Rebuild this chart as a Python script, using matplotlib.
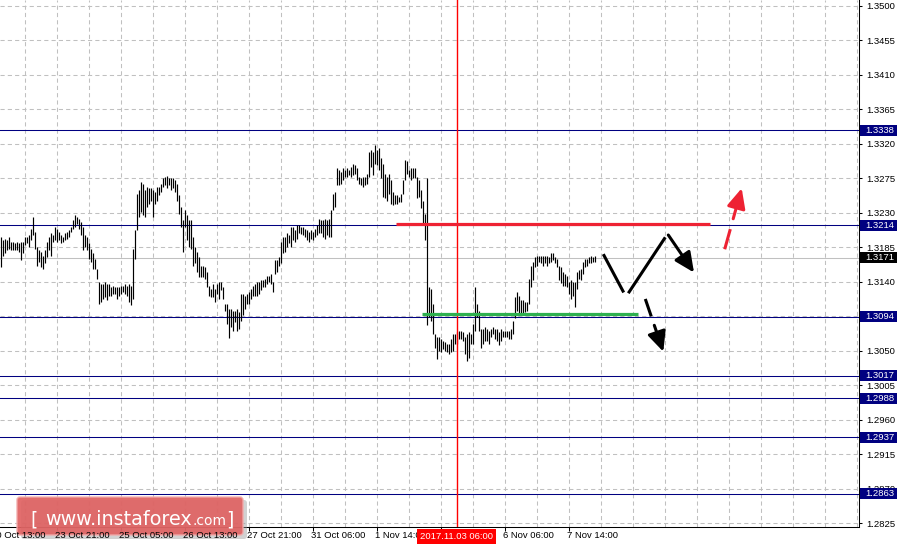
import numpy as np
import matplotlib
matplotlib.use('Agg')
import matplotlib.pyplot as plt
from matplotlib.patches import Rectangle, FancyBboxPatch
from matplotlib.transforms import blended_transform_factory

plt.rcParams['font.family'] = ['Liberation Sans', 'DejaVu Sans']

#--------- GBPUSD H1 bars (high / low) ---------#
highs = [
    1.3198, 1.3194, 1.3196, 1.3194, 1.3198, 1.3192, 1.3192, 1.3190, 1.3192, 1.3190,
    1.3192, 1.3192, 1.3198, 1.3198, 1.3201, 1.3209, 1.3225, 1.3205, 1.3185, 1.3181,
    1.3179, 1.3174, 1.3181, 1.3192, 1.3198, 1.3203, 1.3201, 1.3212, 1.3209, 1.3205,
    1.3201, 1.3198, 1.3203, 1.3205, 1.3207, 1.3212, 1.3220, 1.3227, 1.3224, 1.3222,
    1.3218, 1.3212, 1.3201, 1.3198, 1.3190, 1.3183, 1.3177, 1.3170, 1.3157, 1.3140,
    1.3137, 1.3137, 1.3140, 1.3137, 1.3137, 1.3133, 1.3135, 1.3133, 1.3133, 1.3133,
    1.3135, 1.3135, 1.3137, 1.3135, 1.3137, 1.3135, 1.3183, 1.3207, 1.3255, 1.3260,
    1.3270, 1.3268, 1.3260, 1.3264, 1.3262, 1.3262, 1.3260, 1.3257, 1.3264, 1.3264,
    1.3268, 1.3275, 1.3277, 1.3278, 1.3276, 1.3275, 1.3275, 1.3273, 1.3268, 1.3253,
    1.3238, 1.3220, 1.3233, 1.3227, 1.3220, 1.3220, 1.3198, 1.3185, 1.3179, 1.3172,
    1.3161, 1.3161, 1.3159, 1.3153, 1.3135, 1.3131, 1.3137, 1.3131, 1.3137, 1.3140,
    1.3140, 1.3133, 1.3111, 1.3111, 1.3105, 1.3105, 1.3102, 1.3102, 1.3105, 1.3100,
    1.3124, 1.3124, 1.3122, 1.3124, 1.3126, 1.3131, 1.3135, 1.3137, 1.3140, 1.3140,
    1.3142, 1.3142, 1.3144, 1.3148, 1.3148, 1.3150, 1.3140, 1.3168, 1.3168, 1.3172,
    1.3192, 1.3198, 1.3198, 1.3203, 1.3201, 1.3211, 1.3211, 1.3207, 1.3214, 1.3214,
    1.3212, 1.3211, 1.3209, 1.3207, 1.3205, 1.3207, 1.3205, 1.3209, 1.3214, 1.3222,
    1.3220, 1.3220, 1.3222, 1.3220, 1.3222, 1.3233, 1.3255, 1.3257, 1.3288, 1.3286,
    1.3283, 1.3288, 1.3286, 1.3288, 1.3286, 1.3290, 1.3294, 1.3292, 1.3288, 1.3277,
    1.3275, 1.3277, 1.3277, 1.3281, 1.3310, 1.3312, 1.3310, 1.3318, 1.3312, 1.3314,
    1.3301, 1.3294, 1.3281, 1.3277, 1.3281, 1.3273, 1.3257, 1.3253, 1.3253, 1.3251,
    1.3255, 1.3273, 1.3299, 1.3297, 1.3286, 1.3288, 1.3288, 1.3288, 1.3277, 1.3273,
    1.3260, 1.3246, 1.3229, 1.3275, 1.3133, 1.3131, 1.3111, 1.3072, 1.3068, 1.3068,
    1.3065, 1.3063, 1.3061, 1.3059, 1.3059, 1.3065, 1.3072, 1.3072, 1.3074, 1.3076,
    1.3076, 1.3074, 1.3068, 1.3072, 1.3074, 1.3072, 1.3085, 1.3133, 1.3111, 1.3102,
    1.3078, 1.3078, 1.3081, 1.3078, 1.3076, 1.3078, 1.3081, 1.3078, 1.3078, 1.3074,
    1.3078, 1.3076, 1.3076, 1.3076, 1.3076, 1.3078, 1.3089, 1.3120, 1.3126, 1.3122,
    1.3116, 1.3116, 1.3113, 1.3113, 1.3144, 1.3161, 1.3166, 1.3172, 1.3174, 1.3174,
    1.3174, 1.3174, 1.3174, 1.3174, 1.3172, 1.3177, 1.3177, 1.3172, 1.3170, 1.3161,
    1.3159, 1.3153, 1.3150, 1.3148, 1.3140, 1.3142, 1.3140, 1.3140, 1.3153, 1.3155,
    1.3157, 1.3166, 1.3170, 1.3170, 1.3172, 1.3174, 1.3172, 1.3174,
]
lows = [
    1.3159, 1.3174, 1.3177, 1.3181, 1.3183, 1.3181, 1.3181, 1.3181, 1.3181, 1.3179,
    1.3168, 1.3177, 1.3188, 1.3190, 1.3185, 1.3194, 1.3201, 1.3183, 1.3161, 1.3166,
    1.3159, 1.3157, 1.3164, 1.3172, 1.3181, 1.3174, 1.3192, 1.3194, 1.3192, 1.3194,
    1.3190, 1.3192, 1.3194, 1.3196, 1.3198, 1.3205, 1.3209, 1.3212, 1.3216, 1.3209,
    1.3201, 1.3181, 1.3185, 1.3181, 1.3170, 1.3166, 1.3157, 1.3157, 1.3144, 1.3111,
    1.3113, 1.3118, 1.3120, 1.3116, 1.3122, 1.3122, 1.3124, 1.3124, 1.3118, 1.3122,
    1.3124, 1.3126, 1.3124, 1.3122, 1.3113, 1.3109, 1.3118, 1.3170, 1.3207, 1.3225,
    1.3231, 1.3227, 1.3225, 1.3238, 1.3242, 1.3246, 1.3225, 1.3242, 1.3246, 1.3253,
    1.3257, 1.3264, 1.3266, 1.3262, 1.3266, 1.3260, 1.3262, 1.3257, 1.3246, 1.3229,
    1.3212, 1.3179, 1.3212, 1.3194, 1.3185, 1.3183, 1.3161, 1.3164, 1.3153, 1.3146,
    1.3146, 1.3146, 1.3144, 1.3133, 1.3122, 1.3120, 1.3120, 1.3113, 1.3124, 1.3118,
    1.3129, 1.3118, 1.3102, 1.3085, 1.3067, 1.3081, 1.3076, 1.3087, 1.3076, 1.3078,
    1.3089, 1.3096, 1.3105, 1.3111, 1.3111, 1.3118, 1.3122, 1.3122, 1.3122, 1.3124,
    1.3129, 1.3133, 1.3133, 1.3137, 1.3140, 1.3137, 1.3126, 1.3150, 1.3153, 1.3161,
    1.3164, 1.3177, 1.3179, 1.3185, 1.3190, 1.3185, 1.3194, 1.3192, 1.3196, 1.3203,
    1.3202, 1.3201, 1.3198, 1.3194, 1.3192, 1.3196, 1.3194, 1.3198, 1.3201, 1.3203,
    1.3203, 1.3198, 1.3196, 1.3201, 1.3198, 1.3199, 1.3233, 1.3238, 1.3266, 1.3266,
    1.3268, 1.3273, 1.3277, 1.3277, 1.3279, 1.3277, 1.3279, 1.3281, 1.3273, 1.3268,
    1.3266, 1.3264, 1.3266, 1.3268, 1.3277, 1.3290, 1.3279, 1.3294, 1.3292, 1.3286,
    1.3275, 1.3251, 1.3249, 1.3246, 1.3255, 1.3242, 1.3240, 1.3242, 1.3242, 1.3244,
    1.3244, 1.3255, 1.3273, 1.3281, 1.3277, 1.3273, 1.3275, 1.3275, 1.3249, 1.3251,
    1.3236, 1.3216, 1.3194, 1.3083, 1.3094, 1.3089, 1.3072, 1.3054, 1.3039, 1.3050,
    1.3048, 1.3052, 1.3050, 1.3048, 1.3046, 1.3048, 1.3050, 1.3059, 1.3059, 1.3065,
    1.3065, 1.3063, 1.3046, 1.3037, 1.3041, 1.3059, 1.3059, 1.3076, 1.3094, 1.3076,
    1.3054, 1.3059, 1.3063, 1.3063, 1.3059, 1.3068, 1.3072, 1.3065, 1.3063, 1.3057,
    1.3063, 1.3068, 1.3068, 1.3068, 1.3065, 1.3065, 1.3072, 1.3092, 1.3102, 1.3098,
    1.3098, 1.3098, 1.3100, 1.3102, 1.3111, 1.3133, 1.3142, 1.3159, 1.3161, 1.3166,
    1.3164, 1.3161, 1.3164, 1.3161, 1.3164, 1.3166, 1.3168, 1.3164, 1.3159, 1.3142,
    1.3138, 1.3135, 1.3135, 1.3133, 1.3124, 1.3118, 1.3122, 1.3107, 1.3131, 1.3144,
    1.3142, 1.3150, 1.3159, 1.3161, 1.3164, 1.3164, 1.3166, 1.3166,
]

price_ticks = [1.2825, 1.2870, 1.2915, 1.2960, 1.3005, 1.3050, 1.3095, 1.3140,
               1.3185, 1.3230, 1.3275, 1.3320, 1.3365, 1.3410, 1.3455, 1.3500]
level_prices = [1.3338, 1.3214, 1.3094, 1.3017, 1.2988, 1.2937, 1.2863]
bid_price = 1.3171

# time scale ticks (bar index); 2 Nov 22:00 sits under the cursor box
tick_bars = [28, 60, 92, 124, 156, 188, 220, 252, 284]
date_bars = [-4, 28, 60, 92, 124, 156, 188, 252, 284]
date_labels = ['20 Oct 13:00', '23 Oct 21:00', '25 Oct 05:00', '26 Oct 13:00',
               '27 Oct 21:00', '31 Oct 06:00', '1 Nov 14:00', '6 Nov 06:00',
               '7 Nov 14:00']
cursor_bar = 228
cursor_label = '2017.11.03 06:00'

# drawn levels: [bar from, bar to, price]
resist = [197.75, 354.75, 1.3215]
support = [210.75, 318.75, 1.3098]

# forecast sketch (bar, price)
swing_x = [301.4, 311.6, 313.9, 332.4]
swing_y = [1.3176, 1.3126, 1.3125, 1.3198]
# arrows: x0, y0, x1, y1, colour, dashed
arrows = [
    (333.9, 1.3201, 346.75, 1.3152, 'black', False),
    (322.4, 1.31175, 331.4, 1.30487, 'black', True),
    (362.1, 1.31824, 370.6, 1.3262, '#ee2233', True),
]

FS = 6.8
W, H = 898, 549
fig = plt.figure(figsize=(W / 100, H / 100), dpi=100)
ax = fig.add_axes([0, 22 / H, 859 / W, 527 / H])
ax.set_xlim(-0.25, 429.25)
ax.set_ylim(1.28198, 1.35078)

# grid
grid_bars = list(range(12, 430, 16))
ax.set_xticks(tick_bars)
ax.set_xticks(grid_bars, minor=True)
ax.set_xticklabels([])
ax.xaxis.grid(True, which='both', color='#c0c0c0', lw=0.75, ls=(0, (4, 3)))
ax.set_yticks(price_ticks)
ax.set_yticklabels(['%.4f' % p for p in price_ticks])
ax.yaxis.tick_right()
ax.yaxis.grid(True, color='#c0c0c0', lw=0.75, ls=(0, (4, 3)))
ax.set_axisbelow(True)
ax.tick_params(axis='x', which='major', length=3, width=0.75, direction='out')
ax.tick_params(axis='x', which='minor', length=0)
ax.tick_params(axis='y', length=2.5, width=0.75, pad=3, labelsize=FS, colors='black')
for s in ['top', 'left']:
    ax.spines[s].set_visible(False)
for s in ['right', 'bottom']:
    ax.spines[s].set_linewidth(0.75)

# bars
bar_x = np.arange(len(highs))
ax.vlines(bar_x, lows, highs, color='black', lw=0.85, zorder=3)

for p in level_prices:
    ax.axhline(p, color='#000080', lw=0.75, zorder=2.6, snap=True)
ax.axhline(bid_price, color='#c0c0c0', lw=0.75, zorder=1.5)
ax.axvline(cursor_bar, color='#ff0000', lw=1.0, zorder=4)

ax.hlines(resist[2], resist[0], resist[1], color='#ee2233', lw=2.3, zorder=5)
ax.hlines(support[2], support[0], support[1], color='#2eb04f', lw=2.3, zorder=5)

# forecast
ax.plot(swing_x[:2], swing_y[:2], color='black', lw=2.2, solid_capstyle='butt', zorder=6)
ax.plot(swing_x[2:], swing_y[2:], color='black', lw=2.2, solid_capstyle='butt', zorder=6)
for x0, y0, x1, y1, col, dashed in arrows:
    if dashed:
        t1, t2 = 0.33, 0.5
        ax.plot([x0, x0 + (x1 - x0) * t1], [y0, y0 + (y1 - y0) * t1], color=col,
                lw=2.2, solid_capstyle='butt', zorder=6)
        x0, y0 = x0 + (x1 - x0) * t2, y0 + (y1 - y0) * t2
    ax.annotate('', xy=(x1, y1), xytext=(x0, y0), zorder=6,
                arrowprops=dict(arrowstyle='-|>,head_length=0.6,head_width=0.28',
                                color=col, lw=2.2, mutation_scale=20,
                                shrinkA=0, shrinkB=0))

# date labels (figure level so they sit above the logo)
tr = blended_transform_factory(ax.transData, ax.transAxes)
for b, lab in zip(date_bars, date_labels):
    fig.text(b - 0.75, -9 / 527, lab, transform=tr, ha='left', va='center',
             fontsize=FS, zorder=15)

# price level boxes on the right scale
for p, fc in [(p, '#000080') for p in level_prices] + [(bid_price, 'black')]:
    yp = ax.transData.transform((0, p))[1]
    fig.add_artist(Rectangle((860, yp - 5.5), 37, 11, transform=None, fc=fc, ec='none', zorder=10))
    fig.text(865.5 / W, yp / H, '%.4f' % p, color='white', fontsize=FS, va='center',
             ha='left', zorder=11)

# cursor time box
xc = ax.transData.transform((cursor_bar, 0))[0]
fig.add_artist(Rectangle((xc - 40, 5), 79, 15, transform=None, fc='red', ec='none', zorder=16))
fig.text(xc / W, 12.5 / H, cursor_label, color='white', fontsize=FS, ha='center',
         va='center', zorder=17)

# logo
fig.add_artist(FancyBboxPatch((21, 10), 226, 39, boxstyle='round,pad=0,rounding_size=3',
                              transform=None, fc='#999999', ec='none', alpha=0.45, zorder=12))
fig.add_artist(FancyBboxPatch((17, 14), 226, 38, boxstyle='round,pad=0,rounding_size=3',
                              transform=None, fc='#e06262', ec='#f2aaaa', lw=1,
                              alpha=0.92, zorder=13))
fig.text(30 / W, 24 / H, '[', color='white', fontsize=13.5, family='DejaVu Sans',
         va='baseline', ha='left', zorder=14)
fig.text(45.5 / W, 24 / H, 'www.instaforex', color='white', fontsize=13.8,
         family='DejaVu Sans', va='baseline', ha='left', zorder=14)
fig.text(192 / W, 24 / H, '.com', color='white', fontsize=10, family='DejaVu Sans',
         va='baseline', ha='left', zorder=14)
fig.text(226 / W, 24 / H, ']', color='white', fontsize=13.5, family='DejaVu Sans',
         va='baseline', ha='left', zorder=14)

fig.savefig('out.png', dpi=100)
